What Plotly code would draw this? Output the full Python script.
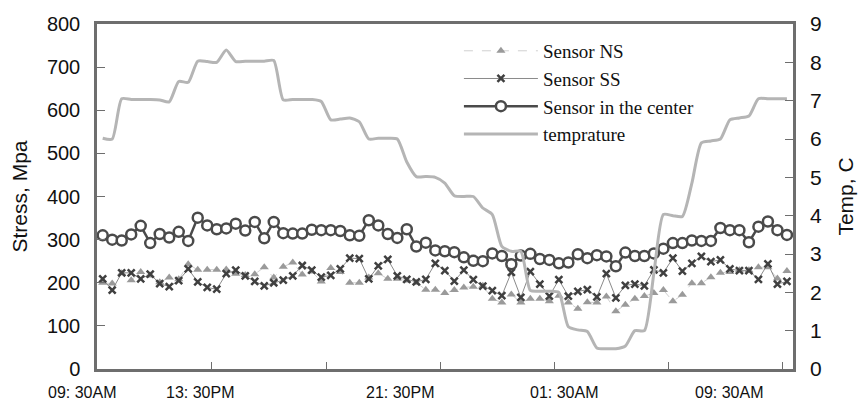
import plotly.graph_objects as go

# ---------------- data ----------------
idx = list(range(73))

sensor_ns = [200, 198, 222, 206, 225, 217, 201, 212, 208, 243,
             230, 230, 230, 231, 221, 218, 220, 236, 212, 237,
             247, 219, 226, 203, 234, 225, 200, 200, 212, 222,
             209, 209, 205, 200, 184, 184, 176, 183, 189, 191,
             193, 163, 154, 173, 154, 163, 163, 157, 170, 154,
             140, 155, 154, 168, 134, 149, 163, 169, 176, 183,
             157, 172, 199, 199, 213, 223, 225, 229, 229, 236,
             236, 210, 227]

sensor_ss = [209, 183, 223, 223, 209, 220, 198, 191, 205, 232,
             202, 189, 185, 221, 229, 216, 203, 193, 200, 206,
             216, 240, 229, 213, 217, 232, 257, 256, 209, 239,
             254, 216, 208, 202, 208, 245, 228, 204, 229, 207,
             192, 182, 170, 224, 166, 226, 197, 169, 207, 169,
             180, 184, 167, 221, 165, 194, 197, 193, 230, 223,
             257, 227, 245, 261, 249, 253, 232, 228, 228, 208,
             244, 197, 203]

sensor_center = [310, 300, 298, 312, 332, 292, 313, 305, 318, 297,
                 351, 333, 324, 326, 337, 321, 341, 303, 341, 315,
                 314, 314, 323, 322, 322, 320, 310, 309, 345, 333,
                 313, 304, 324, 284, 293, 275, 273, 271, 259, 251,
                 250, 268, 262, 243, 263, 267, 255, 253, 245, 247,
                 266, 257, 264, 261, 238, 270, 262, 262, 268, 279,
                 292, 292, 298, 297, 297, 327, 322, 322, 294, 330,
                 342, 322, 311]

temperature = [6.02, 6.0, 7.05, 7.03, 7.03, 7.03, 7.02, 6.97, 7.5, 7.48,
               8.03, 8.02, 8.0, 8.32, 8.02, 8.03, 8.03, 8.03, 8.05, 7.02,
               7.03, 7.03, 7.03, 6.98, 6.5, 6.52, 6.55, 6.45, 6.0, 6.02,
               6.02, 6.0, 5.4, 5.02, 5.02, 5.0, 4.85, 4.52, 4.5, 4.5,
               4.2, 4.03, 3.2, 3.07, 3.07, 2.05, 2.03, 2.03, 2.0, 1.1,
               1.02, 0.98, 0.55, 0.53, 0.53, 0.6, 1.0, 1.0, 2.5, 4.03,
               4.0, 3.98, 4.85, 5.9, 5.95, 6.0, 6.5, 6.55, 6.6, 7.05,
               7.05, 7.05, 7.05]

x_label_pos = [-2.2, 10.2, 31.3, 48.5, 65.9]
x_labels = ["09: 30AM", "13: 30PM", "21: 30PM", "01: 30AM", "09: 30AM"]
x_tick_pos = [-0.5, 11.5, 23.5, 35.5, 47.5, 59.5, 71.5]

x_range = [-0.6, 72.64]

# ---------------- figure ----------------
fig = go.Figure()

fig.add_trace(go.Scatter(
    x=idx, y=temperature, name="temprature", yaxis="y2",
    mode="lines", line=dict(color="#b5b5b5", width=3, shape="spline", smoothing=0.6),
    legendrank=4))

fig.add_trace(go.Scatter(
    x=idx, y=sensor_ns, name="Sensor NS", mode="lines+markers",
    line=dict(color="#d0d0d0", width=1, dash="dash"),
    marker=dict(symbol="triangle-up", size=8, color="#9a9a9a"),
    legendrank=1))

fig.add_trace(go.Scatter(
    x=idx, y=sensor_ss, name="Sensor SS", mode="lines+markers",
    line=dict(color="#8a8a8a", width=1),
    marker=dict(symbol="x-thin", size=7, color="#404040",
                line=dict(color="#404040", width=2.5)),
    legendrank=2))

fig.add_trace(go.Scatter(
    x=idx, y=sensor_center, name="Sensor in the center", mode="lines+markers",
    line=dict(color="#4a4a4a", width=2.5),
    marker=dict(symbol="circle", size=10, color="white",
                line=dict(color="#4a4a4a", width=2.5)),
    legendrank=3))

# category labels (placed under the axis, converted to paper fraction)
span = x_range[1] - x_range[0]
for pos, lab in zip(x_label_pos, x_labels):
    fig.add_annotation(x=(pos - x_range[0]) / span, y=-0.068, xref="paper", yref="paper",
                       text=lab, showarrow=False, xanchor="center", yanchor="middle",
                       font=dict(family="Liberation Sans", size=16, color="#111"))

axis_col = "#6e6e6e"
fig.update_layout(
    width=866, height=410,
    margin=dict(l=97, r=71, t=13, b=41),
    paper_bgcolor="white", plot_bgcolor="white",
    showlegend=True,
    legend=dict(x=0.52, y=0.977, xanchor="left", yanchor="top",
                bgcolor="rgba(0,0,0,0)", tracegroupgap=0,
                font=dict(family="Liberation Serif", size=19, color="#111"),
                itemwidth=74),
    xaxis=dict(range=x_range, tickmode="array", tickvals=x_tick_pos,
               ticktext=[""] * len(x_tick_pos), ticks="inside", ticklen=7,
               tickcolor=axis_col, tickwidth=1,
               showgrid=False, zeroline=False, showline=True, linecolor=axis_col,
               linewidth=2.5, mirror=True),
    yaxis=dict(range=[0, 800], dtick=100, ticks="inside", ticklen=8,
               tickcolor=axis_col, showgrid=False, zeroline=False,
               showline=True, linecolor=axis_col, linewidth=2.5, mirror=True,
               tickfont=dict(family="Liberation Sans", size=20, color="#111"),
               ticklabelstandoff=10,
               title=dict(text="Stress, Mpa", standoff=14,
                          font=dict(family="Liberation Sans", size=21, color="#111"))),
    yaxis2=dict(range=[0, 9], dtick=1, overlaying="y", side="right",
                ticks="inside", ticklen=8, tickcolor=axis_col,
                showgrid=False, zeroline=False, showline=False,
                tickfont=dict(family="Liberation Sans", size=21, color="#111"),
                ticklabelstandoff=16,
                title=dict(text="Temp, C", standoff=17,
                           font=dict(family="Liberation Sans", size=21, color="#111"))),
)

fig.write_html("out.html")
